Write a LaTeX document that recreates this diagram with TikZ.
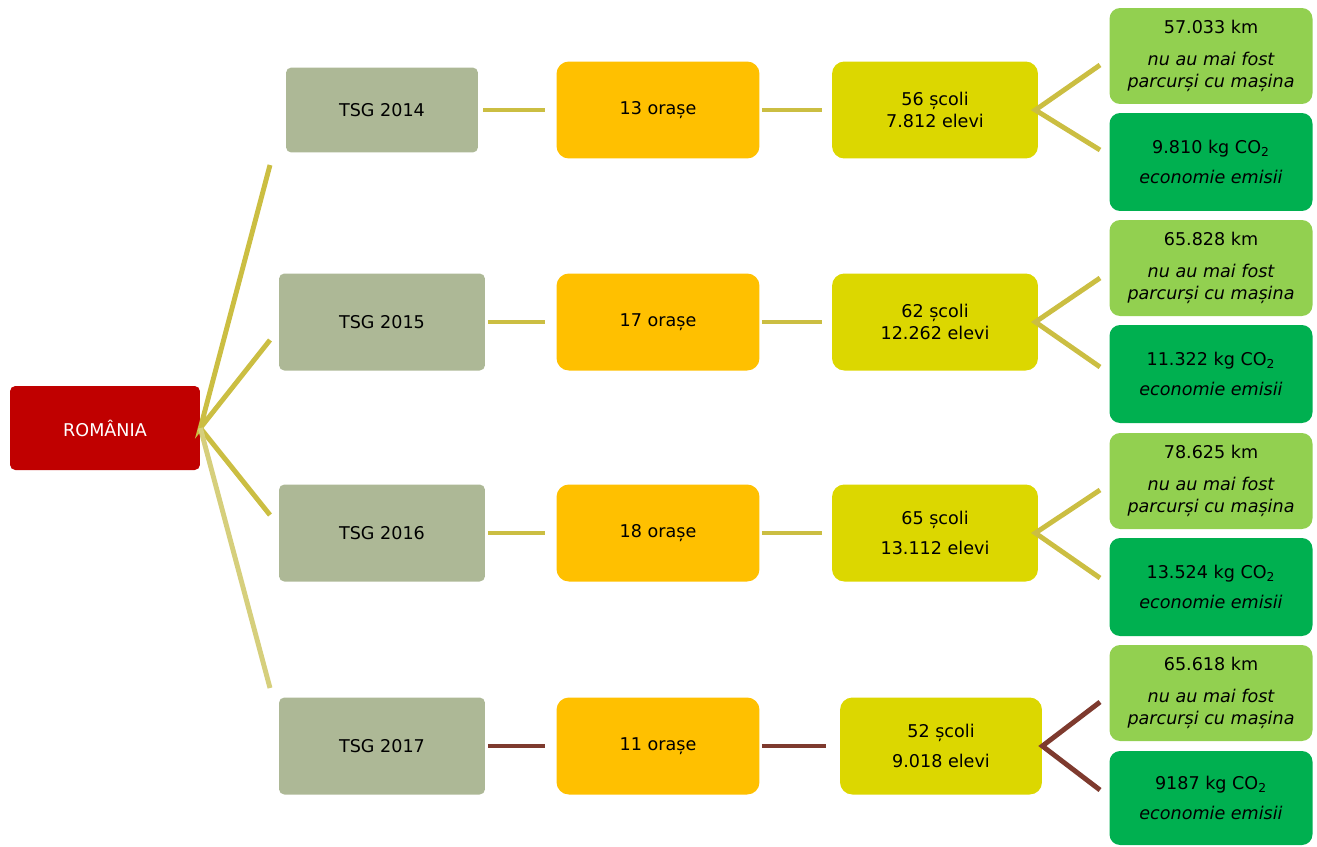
\documentclass[tikz,border=0pt]{standalone}
\usepackage{fontspec}
\setmainfont{DejaVu Sans}
\usepackage{tikz}
\usetikzlibrary{positioning}
\definecolor{rored}{HTML}{C00000}
\definecolor{yearcol}{HTML}{ADB896}
\definecolor{citycol}{HTML}{FFC000}
\definecolor{schoolcol}{HTML}{DCD700}
\definecolor{kmcol}{HTML}{92D050}
\definecolor{co2col}{HTML}{00B050}
\definecolor{linecol}{HTML}{CBBE42}
\definecolor{palecol}{HTML}{D6CF7C}
\definecolor{browncol}{HTML}{7E3A2E}

\begin{document}
\begin{tikzpicture}[x=0.02cm,y=-0.02cm,
    every node/.style={font=\fontsize{10}{12.5}\selectfont,align=center,inner sep=0pt},
    rootbox/.style={fill=rored,text=white,rounded corners=3pt,minimum width=3.8cm,minimum height=1.68cm},
    yearbox/.style={fill=yearcol,rounded corners=3pt,minimum width=4.12cm,minimum height=1.94cm},
    citybox/.style={fill=citycol,rounded corners=7pt,minimum width=4.06cm,minimum height=1.94cm},
    schoolbox/.style={fill=schoolcol,rounded corners=7pt,minimum width=4.12cm,minimum height=1.94cm},
    kmbox/.style={fill=kmcol,rounded corners=6pt,minimum width=4.06cm,minimum height=1.92cm},
    co2box/.style={fill=co2col,rounded corners=6pt,minimum width=4.06cm,minimum height=1.96cm},
    link/.style={draw=linecol,line width=2.8pt},
    brownlink/.style={draw=browncol,line width=2.8pt}]
  \useasboundingbox (0,0) rectangle (1317,846);

  % root
  \node[rootbox] (ro) at (105,428) {ROMÂNIA};

  % years
  \node[yearbox,minimum width=3.84cm,minimum height=1.7cm] (y14) at (382,110) {TSG 2014};
  \node[yearbox] (y15) at (382,322) {TSG 2015};
  \node[yearbox] (y16) at (382,533) {TSG 2016};
  \node[yearbox] (y17) at (382,746) {TSG 2017};

  % cities
  \node[citybox] (c14) at (658,110) {13 orașe};
  \node[citybox] (c15) at (658,322) {17 orașe};
  \node[citybox] (c16) at (658,533) {18 orașe};
  \node[citybox] (c17) at (658,746) {11 orașe};

  % schools
  \node[schoolbox] (s14) at (935,110) {56 școli\\7.812 elevi};
  \node[schoolbox] (s15) at (935,322) {62 școli\\12.262 elevi};
  \node[schoolbox] (s16) at (935,533) {65 școli\\[4.5pt]13.112 elevi};
  \node[schoolbox,minimum width=4.04cm] (s17) at (941,746) {52 școli\\[4.5pt]9.018 elevi};

  % results
  \node[kmbox] (k14) at (1211,56) {57.033 km\\[5.5pt]\itshape nu au mai fost\\\itshape parcurși cu mașina};
  \node[co2box] (e14) at (1211,162) {9.810 kg CO\textsubscript{2}\\[5pt]\itshape economie emisii};
  \node[kmbox] (k15) at (1211,268) {65.828 km\\[5.5pt]\itshape nu au mai fost\\\itshape parcurși cu mașina};
  \node[co2box] (e15) at (1211,374) {11.322 kg CO\textsubscript{2}\\[5pt]\itshape economie emisii};
  \node[kmbox] (k16) at (1211,481) {78.625 km\\[5.5pt]\itshape nu au mai fost\\\itshape parcurși cu mașina};
  \node[co2box] (e16) at (1211,587) {13.524 kg CO\textsubscript{2}\\[5pt]\itshape economie emisii};
  \node[kmbox] (k17) at (1211,693) {65.618 km\\[5.5pt]\itshape nu au mai fost\\\itshape parcurși cu mașina};
  \node[co2box,minimum height=1.88cm] (e17) at (1211,798) {9187 kg CO\textsubscript{2}\\[5pt]\itshape economie emisii};

  % free ends
  \coordinate (r14) at (270,165);
  \coordinate (r15) at (270,340);
  \coordinate (r16) at (270,515);
  \coordinate (r17) at (270,688);
  \coordinate (f14a) at (1100,65);
  \coordinate (f14b) at (1100,150);
  \coordinate (f15a) at (1100,278);
  \coordinate (f15b) at (1100,367);
  \coordinate (f16a) at (1100,490);
  \coordinate (f16b) at (1100,578);
  \coordinate (f17a) at (1100,702);
  \coordinate (f17b) at (1100,790);

  % root fan
  \draw[link] (r14) -- (ro.east) -- (r15);
  \draw[link] (r16) -- (ro.east);
  \draw[link,draw=palecol] (ro.east) -- (r17);

  % rows
  \draw[link,shorten <=0.1cm,shorten >=0.22cm] (y14.east) -- (c14.west);
  \draw[link,shorten <=0.05cm,shorten >=0.22cm] (y15.east) -- (c15.west);
  \draw[link,shorten <=0.05cm,shorten >=0.22cm] (y16.east) -- (c16.west);
  \draw[brownlink,shorten <=0.05cm,shorten >=0.22cm] (y17.east) -- (c17.west);
  \draw[link,shorten <=0.04cm,shorten >=0.2cm] (c14.east) -- (s14.west);
  \draw[link,shorten <=0.04cm,shorten >=0.2cm] (c15.east) -- (s15.west);
  \draw[link,shorten <=0.04cm,shorten >=0.2cm] (c16.east) -- (s16.west);
  \draw[brownlink,shorten <=0.04cm,shorten >=0.28cm] (c17.east) -- (s17.west);

  % result fans
  \draw[link] (f14a) -- ([xshift=-0.06cm]s14.east) -- (f14b);
  \draw[link] (f15a) -- ([xshift=-0.06cm]s15.east) -- (f15b);
  \draw[link] (f16a) -- ([xshift=-0.06cm]s16.east) -- (f16b);
  \draw[brownlink] (f17a) -- (s17.east) -- (f17b);
\end{tikzpicture}
\end{document}
